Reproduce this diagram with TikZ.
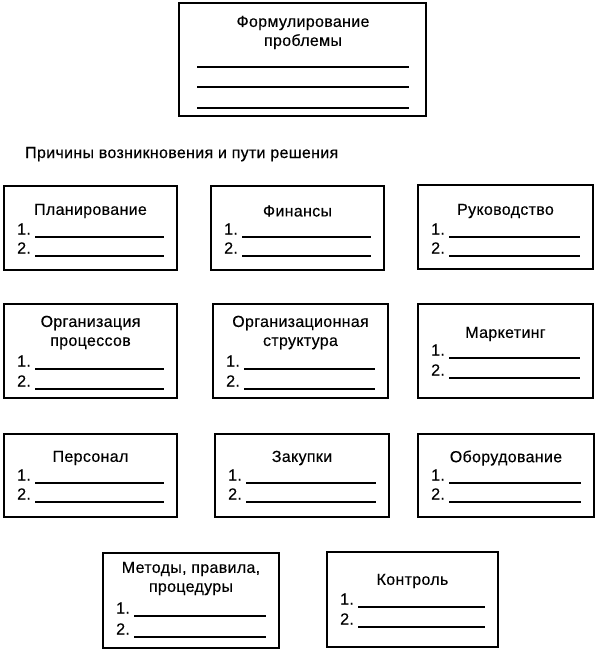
\documentclass[tikz,border=0pt]{standalone}
\usepackage{fontspec}
\setmainfont{Liberation Sans}[LetterSpace=2,FakeBold=0.3]
\usetikzlibrary{positioning,fit}
\tikzset{
  factorbox/.style={draw=black, line width=1.8pt, inner sep=0pt},
  factortitle/.style={align=center, font=\fontsize{16}{19}\selectfont, inner sep=0pt},
  itemnum/.style={anchor=base west, font=\fontsize{16}{19}\selectfont, inner sep=0pt},
  blank/.style={line width=1.2pt},
}

\begin{document}
\begin{tikzpicture}[x=1pt,y=-1pt]
  \useasboundingbox (0,0) rectangle (599,651);
  % problem statement
  \node[factorbox, fit={(179,3) (426,116)}] (problem) {};
  \node[factortitle] (problem-t) at (303,32.5) {Формулирование\\проблемы};
  \foreach \ly in {67,87,108}
     {\draw[blank] (197,\ly) -- (409,\ly);}
  \node[factortitle, anchor=base west] (causes) at (25,158) {Причины возникновения и пути решения};
  % factor boxes: name/left/top/right/bottom/title/title y/first blank y
  \foreach \nm/\xa/\ya/\xb/\yb/\ttl/\ty/\ly/\dl in {
      plan/4/186/177/270/{Планирование}/211/237/19,
      fin/211/186/384/270/{Финансы}/211/237/19,
      ruk/418/185/593/269/{Руководство}/211/237/19,
      orgp/4/304/177/398/{Организация\\процессов}/332.5/369/20,
      orgs/213/304/388/398/{Организационная\\структура}/332.5/369/20,
      mark/418/304/593/398/{Маркетинг}/334/358/20,
      pers/4/434/177/517/{Персонал}/458/483/19,
      zak/215/434/389/517/{Закупки}/458/483/19,
      obor/418/434/594/517/{Оборудование}/458/483/19,
      meth/103/553/279/648/{Методы, правила,\\процедуры}/578.5/616/21,
      kontr/327/552/498/647/{Контроль}/581/607/20}
  {
    \node[factorbox, fit={(\xa,\ya) (\xb,\yb)}] (\nm) {};
    \node[factortitle] (\nm-t) at ({(\xa+\xb)/2},\ty) {\ttl};
    \foreach \i/\k in {1/0,2/1}
    {
      \node[itemnum] (\nm-\i) at (\xa+13,\ly+\k*\dl-2.5) {\i.};
      \draw[blank] (\xa+31,\ly+\k*\dl) -- (\xb-13,\ly+\k*\dl);
    }
  }
\end{tikzpicture}
\end{document}
